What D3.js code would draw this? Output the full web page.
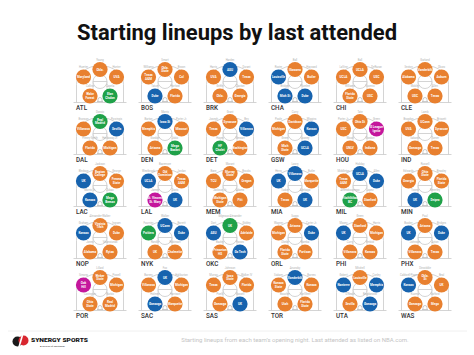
<!DOCTYPE html>
<html><head><meta charset="utf-8">
<script src="https://cdn.jsdelivr.net/npm/d3@7"></script>
<style>body{margin:0;background:#fff;} svg{display:block;}</style>
</head><body><svg id="c" width="474" height="355"></svg>
<script>
// ---- data ----
const title = "Starting lineups by last attended";
const note = "Starting lineups from each team\u2019s opening night. Last attended as listed on NBA.com.";
const teams = ["ATL","BOS","BRK","CHA","CHI","CLE",
               "DAL","DEN","DET","GSW","HOU","IND",
               "LAC","LAL","MEM","MIA","MIL","MIN",
               "NOP","NYK","OKC","ORL","PHI","PHX",
               "POR","SAC","SAS","TOR","UTA","WAS"];
const slots = ["TL","T","TR","BL","BR"];
// last attended, per team, in slot order TL, T, TR, BL, BR
const schools = [
 ["Maryland","Okla.","UVA","Wake Forest","Elan Chalon"],
 ["Texas A&M","Okla. State","Cal","Duke","Florida"],
 ["UVA","ASU","Texas","Okla.","Georgia"],
 ["Louisville","Illawarra","Butler","Mich St","Duke"],
 ["UCLA","UCLA","USC","Florida State","USC"],
 ["Alabama","Vanderbilt","Auburn","USC","Texas"],
 ["Villanova","Real Madrid","Sevilla","Florida","Michigan"],
 ["Memphis","Iowa St","Missouri","Arizona","Mega Basket"],
 ["Texas","Syracuse","Villanova","HF Cholet","Washington"],
 ["Michigan","Davidson","Kansas","Mich State","UCLA"],
 ["USC","Ohio St","G League Ignite","UNLV","Indiana"],
 ["UVA","UConn","Syracuse","Gonzaga","Texas"],
 ["UK","Boston College","Fresno State","Kansas","Mega Bemax"],
 ["UCLA","Old Dominion","Texas A&M","St. Vincent St. Mary","UK"],
 ["TCU","Murray State","Oregon","Michigan State","Pitt"],
 ["UK","Villanova","Marquette","Texas","UK"],
 ["Texas A&M","UCLA","Duke","Filathlitikos BC","Stanford"],
 ["Georgia","Ohio State","Florida State","UK","Dnipro"],
 ["Kansas","Virginia Tech","Duke","Alabama","Rytas"],
 ["Poitiers","UConn","Duke","UK","Chalmette"],
 ["ASU","UK","Adelaide","Princeton HS","Ga Tech"],
 ["Michigan","Arizona","Duke","Florida State","Partizan"],
 ["UK","Stanford","Michigan","Villanova","Kansas"],
 ["UK","Arizona","Duke","Villanova","Texas"],
 ["Oak Hill","Weber State","Michigan","Ohio State","Real Madrid"],
 ["Villanova","UK","Michigan","Gonzaga","Marquette"],
 ["Texas","Iowa State","Florida","Gonzaga","UK"],
 ["Kansas State","Vanderbilt","Kansas","Utah","Florida State"],
 ["Nanterre","Louisville","Memphis","Sevilla","Gonzaga"],
 ["Kansas","Okla. St","UK","Gonzaga","Mega"]
];
const players = [
 ["Huerter","Young","Hunter","Collins","Capela"],
 ["Williams","Smart","Brown","Tatum","Horford"],
 ["Harris","Harden","Durant","Griffin","Claxton"],
 ["Rozier","Ball","Hayward","Bridges","Plumlee"],
 ["LaVine","Ball","DeRozan","Williams","Vucevic"],
 ["Sexton","Garland","Okoro","Mobley","Allen"],
 ["Brunson","Doncic","Porzingis","Finney-Smith","Hardaway Jr."],
 ["Barton","Morris","Porter Jr.","Gordon","Jokic"],
 ["Joseph","Grant","Bey","Hayes","Stewart"],
 ["Poole","Curry","Wiggins","Green","Looney"],
 ["Porter Jr.","Tate","Green","Wood","Gordon"],
 ["Brogdon","Lamb","Brissett","Sabonis","Turner"],
 ["Bledsoe","Jackson","George","Morris Sr.","Zubac"],
 ["Westbrook","Bazemore","Jordan","James","Davis"],
 ["Bane","Morant","Brooks","Jackson Jr.","Adams"],
 ["Herro","Lowry","Butler","Tucker","Adebayo"],
 ["Middleton","Holiday","Allen","Antetokounmpo","Lopez"],
 ["Edwards","Russell","Beasley","Towns","Beverley"],
 ["Graham","Alexander-Walker","Ingram","Jones","Valanciunas"],
 ["Fournier","Walker","Barrett","Randle","Robinson"],
 ["Dort","Gilgeous-Alexander","Giddey","Bazley","Favors"],
 ["Wagner","Suggs","Carter Jr.","Okeke","Bamba"],
 ["Maxey","Green","Harris","Curry","Embiid"],
 ["Booker","Paul","Bridges","Johnson","Ayton"],
 ["Simons","Lillard","Powell","Covington","Nurkic"],
 ["Barnes","Fox","Haliburton","Holmes","Harrison"],
 ["Murray","Johnson","Walker IV","Poeltl","Vassell"],
 ["Siakam","Anunoby","Barnes","Boucher","VanVleet"],
 ["Gobert","Mitchell","Conley","O'Neale","Bogdanovic"],
 ["Caldwell-Pope","Dinwiddie","Beal","Kuzma","Gafford"]
];
// colour group per player, slot order TL, T, TR, BL, BR
const groups = [
 ["O","O","O","O","G"],["O","O","O","B","O"],["O","B","O","O","O"],
 ["B","O","O","B","B"],["O","O","O","O","O"],["O","O","O","O","O"],
 ["O","G","B","O","O"],["O","B","O","O","G"],["O","O","B","G","O"],
 ["O","O","B","O","B"],["O","O","M","O","O"],["O","O","O","O","O"],
 ["B","O","O","B","G"],["B","O","O","M","B"],["O","O","O","O","O"],
 ["B","B","O","O","B"],["O","B","B","G","O"],["O","O","O","B","G"],
 ["B","O","O","O","O"],["G","B","B","O","O"],["B","G","O","O","B"],
 ["O","O","B","O","O"],["B","O","O","O","O"],["B","O","B","O","O"],
 ["M","O","O","O","O"],["O","B","O","B","O"],["O","O","O","O","B"],
 ["O","B","O","O","O"],["B","O","B","O","B"],["B","O","O","O","O"]
];
const groupKeys = ["O","B","G","M"];
const groupColors = ["#e8802f","#1763ae","#1fa149","#c4179c"];

// ---- layout ----
const svg = d3.select("#c");
const color = d3.scaleOrdinal().domain(groupKeys).range(groupColors);
const colX = d3.scalePoint().domain(d3.range(6)).range([100, 425]);
const rowY = d3.scalePoint().domain(d3.range(5)).range([69.5, 277.5]);
const slotDX = d3.scaleOrdinal().domain(slots).range([-16.5, 0, 16.5, -10, 10]);
const slotDY = d3.scaleOrdinal().domain(slots).range([7.5, 0, 7.5, 26.5, 26.5]);

svg.append("text").attr("x", 237).attr("y", 40).attr("text-anchor","middle")
  .attr("font-family","Roboto, 'Open Sans', sans-serif").attr("font-weight",700)
  .attr("font-size",21.5).attr("fill","#111")
  .attr("textLength",320).attr("lengthAdjust","spacingAndGlyphs").text(title);

const line = "#c9c9c9";
const cells = svg.selectAll("g.cell").data(teams).join("g").attr("class","cell")
  .attr("transform",(d,i)=>`translate(${colX(i%6)},${rowY(Math.floor(i/6))})`);

cells.each(function(team, ti){
  const g = d3.select(this);
  const base = 33;
  // court
  g.append("path").attr("fill","none").attr("stroke",line).attr("stroke-width",0.8)
   .attr("d",`M-23.5,${base} L-23.5,15 A23.5,19 0 0 1 23.5,15 L23.5,${base}`);
  g.append("line").attr("x1",-26.5).attr("x2",26.5).attr("y1",base).attr("y2",base)
   .attr("stroke",line).attr("stroke-width",0.8);
  g.append("line").attr("x1",-7).attr("x2",-7).attr("y1",12).attr("y2",base)
   .attr("stroke",line).attr("stroke-width",0.6);
  g.append("line").attr("x1",7).attr("x2",7).attr("y1",12).attr("y2",base)
   .attr("stroke",line).attr("stroke-width",0.6);
  g.append("circle").attr("cx",0).attr("cy",12).attr("r",7)
   .attr("fill","#fff").attr("stroke",line).attr("stroke-width",0.8);
  g.append("line").attr("x1",-7).attr("x2",7).attr("y1",12).attr("y2",12)
   .attr("stroke",line).attr("stroke-width",0.8);
  g.append("path").attr("fill","none").attr("stroke","#aaa").attr("stroke-width",0.6)
   .attr("d",`M-2,${base-1} L-2,${base-3} A2,2 0 0 1 2,${base-3} L2,${base-1} M-3,${base-1} L3,${base-1}`);
  // team label
  g.append("text").attr("x",-24).attr("y",base+7)
   .attr("font-family","Roboto, sans-serif").attr("font-size",6.3).attr("font-weight",500)
   .attr("fill","#333").text(team);
  // players
  const ps = slots.map((s,k)=>({slot:s, school:schools[ti][k], player:players[ti][k], grp:groups[ti][k]}));
  const pg = g.selectAll("g.p").data(ps).join("g").attr("class","p")
    .attr("transform",d=>`translate(${slotDX(d.slot)},${slotDY(d.slot)})`);
  pg.append("text").attr("y",-9).attr("text-anchor","middle")
    .attr("font-family","Roboto, sans-serif").attr("font-size",2.7).attr("fill","#b0b0b0")
    .text(d=>d.player);
  pg.append("circle").attr("r",7.6).attr("fill",d=>color(d.grp));
  pg.each(function(d){
    const words = d.school.length > 7 && d.school.includes(" ") ? (()=>{
      const w = d.school.split(" "); const h = Math.ceil(w.length/2);
      return [w.slice(0,h).join(" "), w.slice(h).join(" ")];
    })() : [d.school];
    const t = d3.select(this).append("text").attr("text-anchor","middle")
      .attr("font-family","Roboto, sans-serif").attr("font-size",3.1).attr("font-weight",700)
      .attr("fill","#fff");
    words.forEach((w,k)=>t.append("tspan").attr("x",0)
      .attr("y", (k - (words.length-1)/2)*3.4 + 1.1).text(w));
  });
});

// footer
svg.append("line").attr("x1",8).attr("x2",467).attr("y1",331).attr("y2",331)
  .attr("stroke","#ececec").attr("stroke-width",0.8);
svg.append("text").attr("x",295).attr("y",342).attr("text-anchor","middle")
  .attr("font-family","Roboto, sans-serif").attr("font-size",6).attr("fill","#c4c4c4")
  .text(note);
// logo
const logo = svg.append("g").attr("transform","translate(20,341)");
logo.append("circle").attr("cx",-2.5).attr("cy",0.5).attr("r",5).attr("fill","#1a1a1a");
logo.append("circle").attr("cx",3.5).attr("cy",-0.5).attr("r",5).attr("fill","#d8262f");
logo.append("line").attr("x1",-1).attr("y1",6).attr("x2",2.5).attr("y2",-6)
  .attr("stroke","#fff").attr("stroke-width",1.6);
svg.append("text").attr("x",31).attr("y",342).attr("font-family","Roboto, sans-serif")
  .attr("font-weight",900).attr("font-size",5.6).attr("fill","#111")
  .attr("textLength",57).attr("lengthAdjust","spacingAndGlyphs").text("SYNERGY SPORTS");
svg.append("text").attr("x",40).attr("y",346.5).attr("font-family","Roboto, sans-serif")
  .attr("font-size",2.4).attr("fill","#333").text("A division of sportradar");
</script></body></html>
